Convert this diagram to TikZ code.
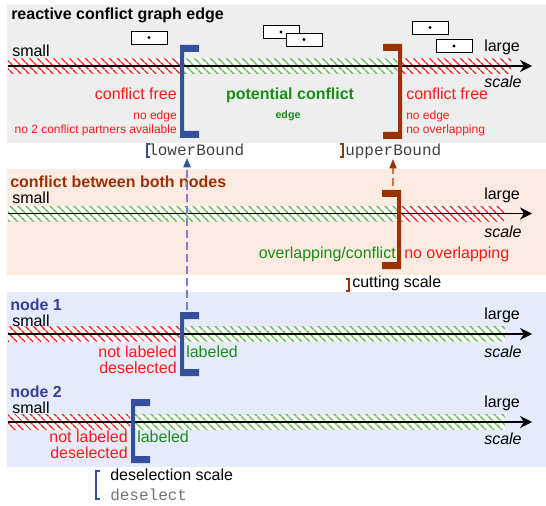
\documentclass[tikz,border=0pt]{standalone}
\usepackage{fontspec}
\setmainfont{Liberation Sans}
\setmonofont{Liberation Mono}
\usetikzlibrary{arrows.meta,patterns.meta}

\definecolor{bgedge}{RGB}{238,238,238}
\definecolor{bgconf}{RGB}{253,234,225}
\definecolor{bgnode}{RGB}{229,235,251}
\definecolor{cfred}{RGB}{255,25,25}
\definecolor{pcgreen}{RGB}{25,140,25}
\definecolor{hatchgreen}{RGB}{105,185,85}
\definecolor{lbblue}{RGB}{50,80,155}
\definecolor{lbdashblue}{RGB}{125,125,205}
\definecolor{ubbrown}{RGB}{155,50,5}
\definecolor{ubdashbrown}{RGB}{205,115,80}
\definecolor{nodeblue}{RGB}{55,65,155}

\tikzset{
  lbl/.style={font=\fontsize{12}{14}\selectfont, inner sep=0pt},
  axisname/.style={font=\itshape\fontsize{12}{14}\selectfont, inner sep=0pt, anchor=base west},
  note/.style={font=\fontsize{9}{11}\selectfont, inner sep=0pt, text=cfred},
  head/.style={font=\bfseries\fontsize{12}{14}\selectfont, inner sep=0pt, anchor=base west},
  code/.style={font=\ttfamily\fontsize{12}{14}\selectfont, inner sep=0pt, anchor=base west},
  redband/.style={preaction={fill=white}, pattern={Lines[angle=-45,distance=4pt,line width=1.2pt]}, pattern color=cfred},
  greenband/.style={preaction={fill=white}, pattern={Lines[angle=-45,distance=4pt,line width=1.2pt]}, pattern color=hatchgreen},
  axis/.style={line width=1.2pt, -{Stealth[length=9pt,width=9pt,inset=3pt]}},
  dot box/.style={draw, fill=white, line width=0.7pt, minimum width=27pt, minimum height=9.75pt, inner sep=0pt,
    path picture={\fill[black] (path picture bounding box.center) circle[radius=1.3pt];}},
  lbdash/.style={lbdashblue, line width=0.9pt, dash pattern=on 6pt off 3pt, -{Triangle[length=7pt,width=5.5pt,color=lbblue]}},
  ubdash/.style={ubdashbrown, line width=0.9pt, dash pattern=on 6pt off 3pt, -{Triangle[length=7pt,width=5.5pt,color=ubbrown]}}
}

% #1 = x of the bar, #2 = top, #3 = bottom, #4 = colour
\newcommand\bracketopen[4]{%
  \fill[#4] (#1,#2) -- ++(19,0) -- ++(0,7) -- ++(-15,0) -- (#1+4,#3-7) -- ++(15,0) -- ++(0,7) -- (#1,#3) -- cycle;}
\newcommand\bracketclose[4]{%
  \fill[#4] (#1,#2) -- ++(-19,0) -- ++(0,7) -- ++(15,0) -- (#1-4,#3-7) -- ++(-15,0) -- ++(0,7) -- (#1,#3) -- cycle;}

\begin{document}
\begin{tikzpicture}[x=0.75pt, y=-0.75pt]
    \useasboundingbox (0,0) rectangle (546,506);

    \fill[bgedge] (7,5) rectangle (546,143);
    \fill[bgconf] (7,169) rectangle (546,275);
    \fill[bgnode] (7,292) rectangle (546,467);

    % reactive conflict graph edge
    \node[head] (edgetitle) at (11,20) {reactive conflict graph edge};
    \node[dot box] (box1) at (149,37.5) {};
    \node[dot box] (box2) at (281,32) {};
    \node[dot box] (box3) at (304,39.5) {};
    \node[dot box] (box4) at (430,27.5) {};
    \node[dot box] (box5) at (454,46) {};

    \path[redband] (8,58.5) rectangle (180,73.5);
    \path[greenband] (184,58.5) rectangle (399,73.5);
    \path[redband] (401,58.5) rectangle (511,73.5);
    \draw[axis] (8,66) -- (532,66);
    \node[lbl, anchor=base west] (small1) at (12,56.5) {small};
    \node[lbl, anchor=base west] (large1) at (484,52) {large};
    \node[axisname] (scale1) at (484,88) {scale};

    \bracketopen{180}{45}{138}{lbblue}
    \bracketclose{402}{44}{139}{ubbrown}

    \node[lbl, text=cfred, anchor=base east] (free1) at (177,99.5) {conflict free};
    \node[note, anchor=base east] (noedge1) at (177,120) {no edge};
    \node[note, anchor=base east] (nopartner) at (177,133.5) {no 2 conflict partners available};
    \node[head, anchor=base, text=pcgreen] (potential) at (290,99.5) {potential conflict};
    \node[font=\bfseries\fontsize{8}{10}\selectfont, inner sep=0pt, anchor=base, text=pcgreen] (edgenote) at (288,118.5) {edge};
    \node[lbl, text=cfred, anchor=base west] (free2) at (406,99.5) {conflict free};
    \node[note, anchor=base west] (noedge2) at (406,120) {no edge};
    \node[note, anchor=base west] (nooverlap1) at (406,133.5) {no overlapping};

    \node[code, text=black!75] (lower) at (148,155.5) {lowerBound};
    \draw[lbblue, line width=1pt] (150,144) -- (147,144) -- (147,157) -- (150,157);
    \node[code, text=black!75] (upper) at (345,155.5) {upperBound};
    \draw[ubbrown, line width=1pt] (340,144) -- (343,144) -- (343,157) -- (340,157);

    % conflict between both nodes
    \node[head, text=ubbrown] (conftitle) at (10,188) {conflict between both nodes};
    \path[greenband] (8,206) rectangle (399,221);
    \path[redband] (401,206) rectangle (504,221);
    \draw[axis] (8,213.5) -- (532,213.5);
    \node[lbl, anchor=base west] (small2) at (12,204) {small};
    \node[lbl, anchor=base west] (large2) at (484,199.5) {large};
    \node[axisname] (scale2) at (484,237.5) {scale};

    \bracketclose{401}{190}{269}{ubbrown}
    \node[lbl, text=pcgreen, anchor=base east] (overlap) at (396,258.5) {overlapping/conflict};
    \node[lbl, text=cfred, anchor=base west] (nooverlap2) at (404,258.5) {no overlapping};

    \node[lbl, anchor=base west] (cutting) at (352,287.5) {cutting scale};
    \draw[ubbrown, line width=1pt] (346,279) -- (349,279) -- (349,291) -- (346,291);

    \coordinate (cuttop) at (393,186);
    \draw[ubdash] (cuttop) -- (cuttop |- upper.south);
    \coordinate (n1top) at (187,310);
    \draw[lbdash, shorten >=1.5pt] (n1top) -- (n1top |- lower.south);

    % node 1
    \node[head, text=nodeblue] (node1title) at (10,310) {node 1};
    \path[redband] (8,326.5) rectangle (181,341.5);
    \path[greenband] (185,326.5) rectangle (505,341.5);
    \draw[axis] (8,334) -- (532,334);
    \node[lbl, anchor=base west] (small3) at (12,326.5) {small};
    \node[lbl, anchor=base west] (large3) at (484,319) {large};
    \node[axisname] (scale3) at (484,357.5) {scale};

    \bracketopen{180}{312}{376}{lbblue}
    \node[lbl, text=cfred, anchor=base east] (notlab1) at (177,357) {not labeled};
    \node[lbl, text=cfred, anchor=base east] (desel1) at (177,373) {deselected};
    \node[lbl, text=pcgreen, anchor=base west] (lab1) at (186,357) {labeled};

    % node 2
    \node[head, text=nodeblue] (node2title) at (10,397.5) {node 2};
    \path[redband] (8,414.5) rectangle (130,429.5);
    \path[greenband] (135,414.5) rectangle (505,429.5);
    \draw[axis] (8,422) -- (532,422);
    \node[lbl, anchor=base west] (small4) at (12,413) {small};
    \node[lbl, anchor=base west] (large4) at (484,407.5) {large};
    \node[axisname] (scale4) at (484,444.5) {scale};

    \bracketopen{131}{399}{463}{lbblue}
    \node[lbl, text=cfred, anchor=base east] (notlab2) at (128,442.5) {not labeled};
    \node[lbl, text=cfred, anchor=base east] (desel2) at (128,458.5) {deselected};
    \node[lbl, text=pcgreen, anchor=base west] (lab2) at (137,442.5) {labeled};

    \draw[lbblue, line width=1.5pt] (99.5,471) -- (95.5,471) -- (95.5,499) -- (99.5,499);
    \node[lbl, anchor=base west] (deselscale) at (110,480.5) {deselection scale};
    \node[code, text=black!55] (deselcode) at (110,500) {deselect};
\end{tikzpicture}
\end{document}
